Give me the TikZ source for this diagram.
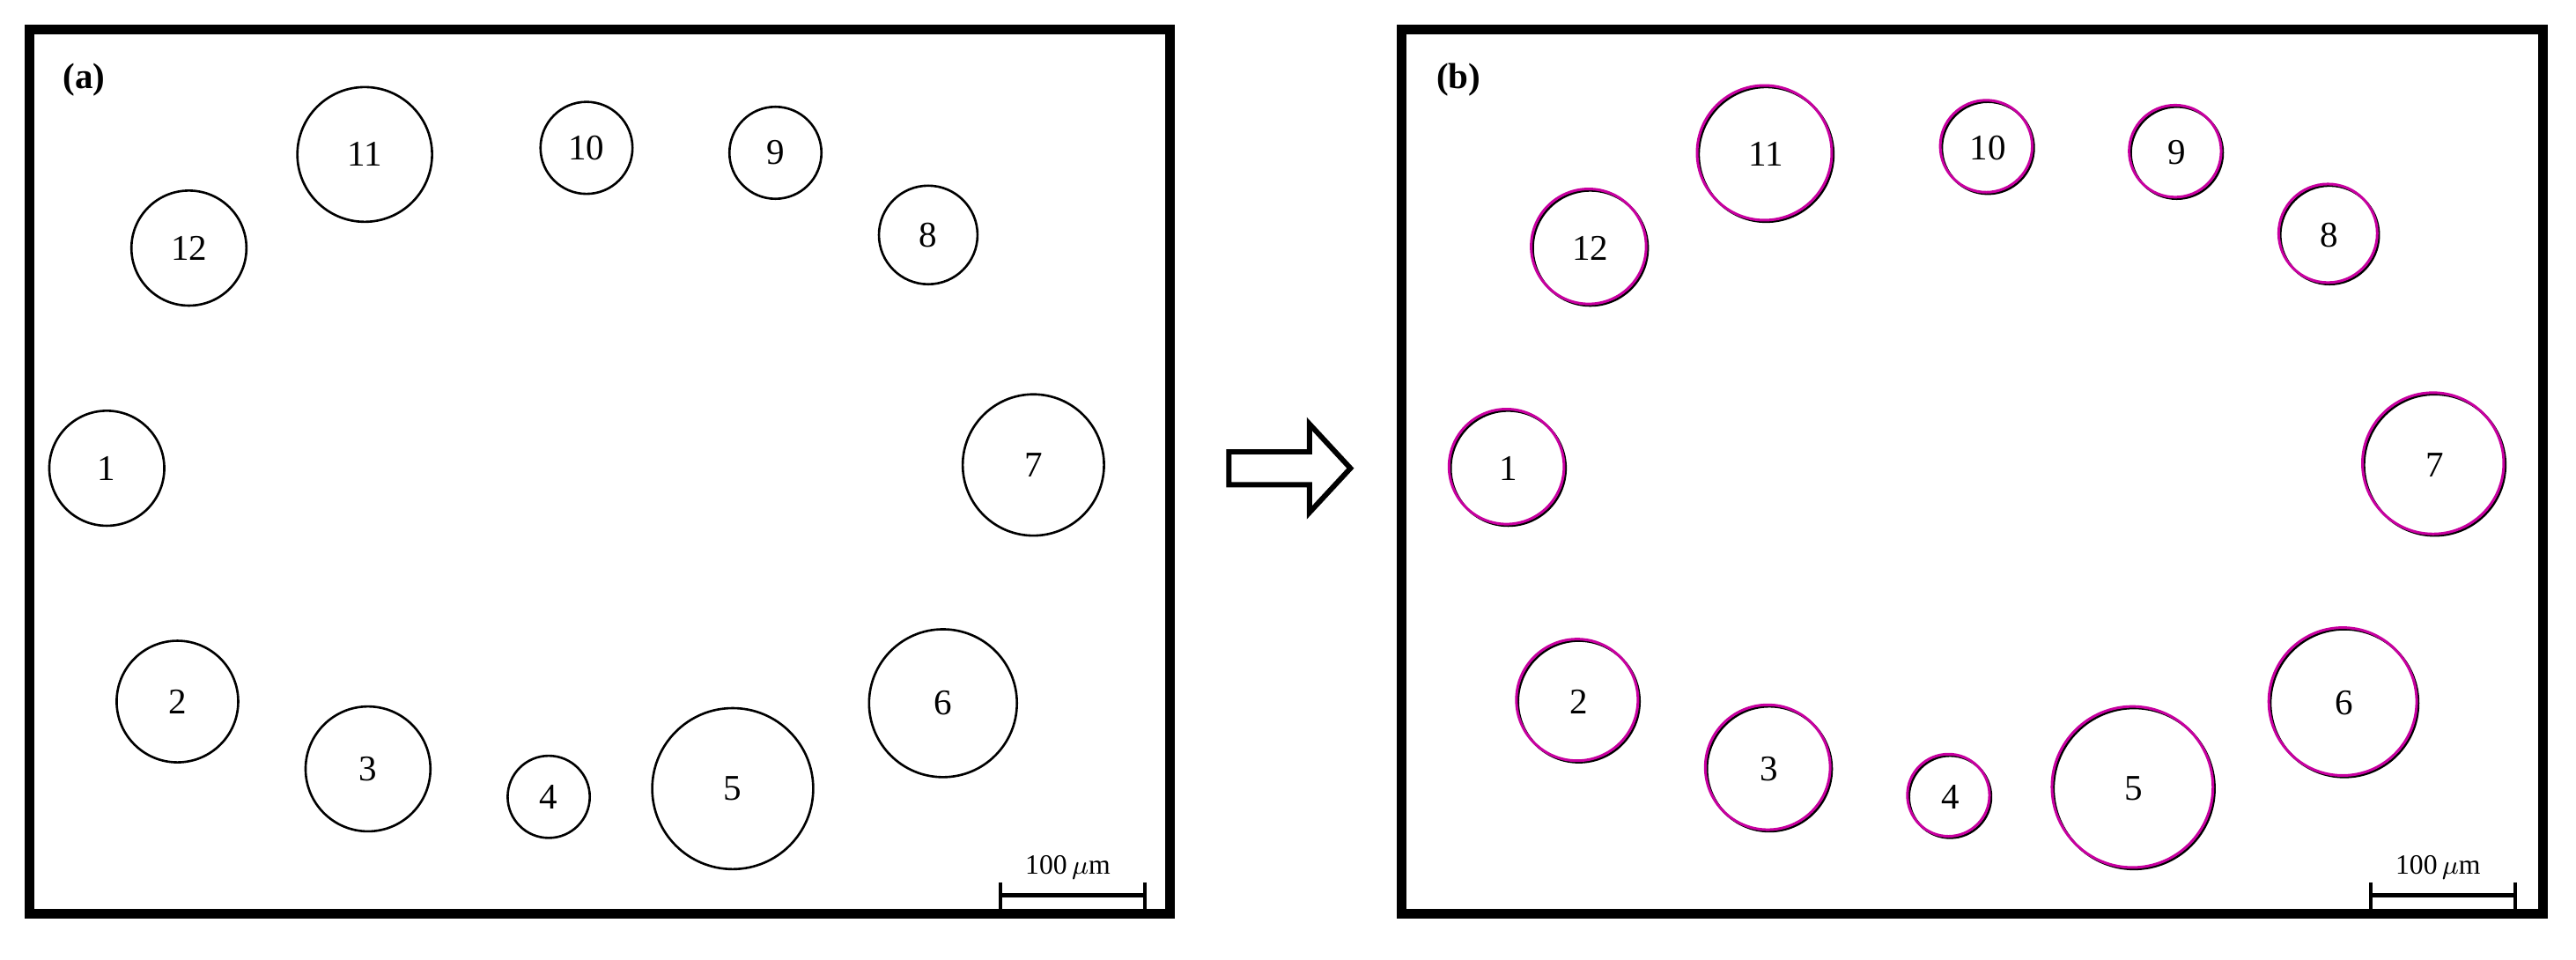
\documentclass[tikz,border=0pt]{standalone}
\usepackage{fontspec}
\setmainfont{Liberation Serif}
\begin{document}
\begin{tikzpicture}[x=0.5pt,y=-0.5pt,
  frame/.style={line width=3pt},
  hole/.style={line width=0.7pt},
  mag/.style={line width=0.8pt,draw={rgb,255:red,200;green,0;blue,160}},
  num/.style={font=\fontsize{11}{13}\selectfont},
  lab/.style={font=\bfseries\fontsize{11}{13}\selectfont,anchor=north west,inner sep=0pt},
  bar/.style={line width=1.2pt}]
\useasboundingbox (0,0) rectangle (1568,584);
\draw[frame] (18,18) rectangle (712,556);
\draw[frame] (853,18) rectangle (1548,556);
\node[lab] (la) at (38,38) {(a)};
\node[lab] (lb) at (874,38) {(b)};
\foreach \n/\x/\y/\r in {1/65/285/35,2/108/427/37,3/224/468/38,4/334/485/25,5/446/480/49,6/574/428/45,7/629/283/43,8/565/143/30,9/472/93/28,10/357/90/28,11/222/94/41,12/115/151/35}{
  \draw[hole] (\x,\y) circle[radius=\r];
  \node[num] (a\n) at (\x,\y) {\n};
  \draw[hole] (\x+853,\y) circle[radius=\r];
  \draw[mag] (\x+852,\y-1) circle[radius=\r];
  \node[num] (b\n) at (\x+853,\y) {\n};
}
% arrow
\draw[line width=1.6pt,line join=miter] (748,275) -- (797,275) -- (797,258) -- (822,285) -- (797,312) -- (797,295) -- (748,295) -- cycle;
% scale bars
\foreach \o/\s in {0/a,834/b}{
  \draw[bar] (609+\o,545) -- (697+\o,545);
  \draw[bar] (609+\o,537) -- (609+\o,553);
  \draw[bar] (697+\o,537) -- (697+\o,553);
  \node[font=\fontsize{8.5}{10}\selectfont,inner sep=0pt] (s\s) at (650+\o,528) {100\,$\mu$m};
}
\end{tikzpicture}
\end{document}
